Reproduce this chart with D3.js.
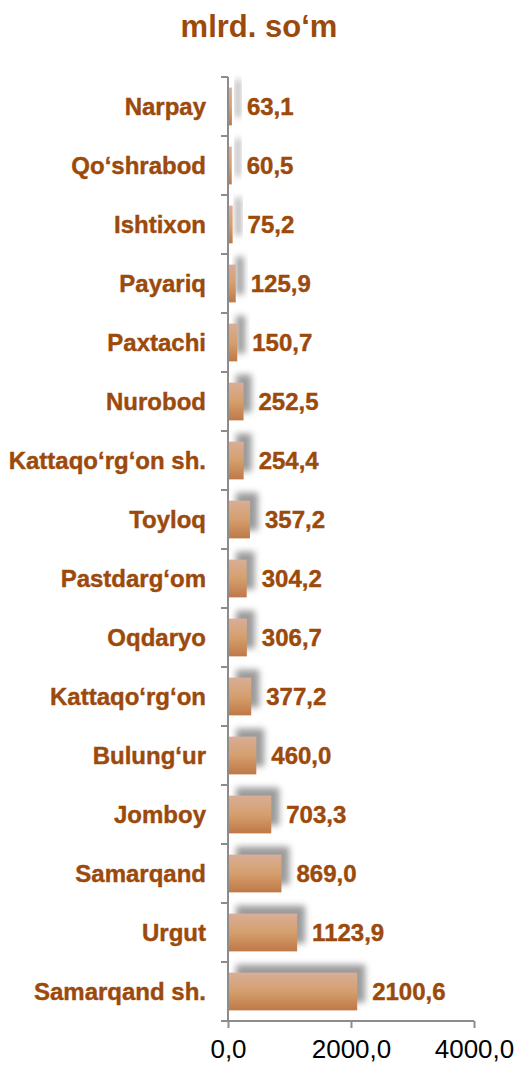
<!DOCTYPE html>
<html>
<head>
<meta charset="utf-8">
<script src="https://cdn.jsdelivr.net/npm/d3@7"></script>
<style>
  body { margin: 0; background: #fff; }
  svg { display: block; }
  text { font-family: "Liberation Sans", Arial, sans-serif; }
</style>
</head>
<body>
<div id="chart"></div>
<script>
// districts, top to bottom
var districts = ["Narpay", "Qo‘shrabod", "Ishtixon", "Payariq", "Paxtachi", "Nurobod",
  "Kattaqo‘rg‘on sh.", "Toyloq", "Pastdarg‘om", "Oqdaryo", "Kattaqo‘rg‘on",
  "Bulung‘ur", "Jomboy", "Samarqand", "Urgut", "Samarqand sh."];
var values = [63.1, 60.5, 75.2, 125.9, 150.7, 252.5, 254.4, 357.2, 304.2, 306.7, 377.2,
  460.0, 703.3, 869.0, 1123.9, 2100.6];
var xTicks = [0, 2000, 4000];
var title = "mlrd. so‘m";

var width = 516, height = 1065;
var brown = "#9c4a0c";
var fmt = function(v) { return d3.format(".1f")(v).replace(".", ","); };

var svg = d3.select("#chart").append("svg")
    .attr("width", width)
    .attr("height", height);

var defs = svg.append("defs");
var grad = defs.append("linearGradient")
    .attr("id", "barFill")
    .attr("x1", 0).attr("y1", 0).attr("x2", 0).attr("y2", 1);
grad.append("stop").attr("offset", "0%").attr("stop-color", "#d9ae98");
grad.append("stop").attr("offset", "50%").attr("stop-color", "#d59f6d");
grad.append("stop").attr("offset", "100%").attr("stop-color", "#bf7848");

var blur = defs.append("filter").attr("id", "shadowBlur")
    .attr("x", "-50%").attr("y", "-50%").attr("width", "200%").attr("height", "200%");
blur.append("feGaussianBlur").attr("stdDeviation", 3);

var x = d3.scaleLinear().domain([0, 4000]).range([228, 474]);
var y = d3.scaleBand().domain(districts).range([77, 1021])
    .paddingInner(0.36).paddingOuter(0.18);

var rows = districts.map(function(d, i) { return { name: d, value: values[i] }; });

// title
svg.append("text")
    .attr("x", 259).attr("y", 37)
    .attr("text-anchor", "middle")
    .attr("fill", brown)
    .style("font-size", "31px")
    .style("font-weight", "bold")
    .text(title);

// shadows
svg.append("g").selectAll("rect")
    .data(rows)
    .enter().append("rect")
    .attr("x", x(0) + 8)
    .attr("y", function(d) { return y(d.name) - 8; })
    .attr("width", function(d) { return x(d.value) - x(0); })
    .attr("height", y.bandwidth())
    .attr("fill", "#8a8a8a")
    .attr("opacity", 0.85)
    .attr("filter", "url(#shadowBlur)");

// bars
svg.append("g").selectAll("rect")
    .data(rows)
    .enter().append("rect")
    .attr("x", x(0))
    .attr("y", function(d) { return y(d.name); })
    .attr("width", function(d) { return x(d.value) - x(0); })
    .attr("height", y.bandwidth())
    .attr("fill", "url(#barFill)");

// value labels
svg.append("g").selectAll("text")
    .data(rows)
    .enter().append("text")
    .attr("x", function(d) { return x(d.value) + 15; })
    .attr("y", function(d) { return y(d.name) + y.bandwidth() / 2 + 8.5; })
    .attr("fill", brown)
    .attr("stroke", brown).attr("stroke-width", 0.4)
    .style("font-size", "24px")
    .style("font-weight", "bold")
    .text(function(d) { return fmt(d.value); });

// y axis
var yAxis = svg.append("g")
    .attr("transform", "translate(" + x(0) + ",0)");
yAxis.append("line")
    .attr("x1", 0).attr("x2", 0)
    .attr("y1", 77).attr("y2", 1021)
    .attr("stroke", "#8c8c8c").attr("stroke-width", 2);
var step = y.step();
yAxis.selectAll("line.tick")
    .data(d3.range(districts.length + 1))
    .enter().append("line")
    .attr("class", "tick")
    .attr("x1", -7).attr("x2", 0)
    .attr("y1", function(i) { return 77 + i * step; })
    .attr("y2", function(i) { return 77 + i * step; })
    .attr("stroke", "#8c8c8c").attr("stroke-width", 2);
yAxis.selectAll("text")
    .data(rows)
    .enter().append("text")
    .attr("x", -22)
    .attr("y", function(d) { return y(d.name) + y.bandwidth() / 2 + 8.5; })
    .attr("text-anchor", "end")
    .attr("fill", brown)
    .attr("stroke", brown).attr("stroke-width", 0.4)
    .style("font-size", "24px")
    .style("font-weight", "bold")
    .text(function(d) { return d.name; });

// x axis
var xAxis = svg.append("g")
    .attr("transform", "translate(0,1021)")
    .call(d3.axisBottom(x).tickValues(xTicks).tickSize(7).tickPadding(12)
        .tickFormat(fmt));
xAxis.select(".domain").remove();
xAxis.append("line")
    .attr("x1", 221).attr("x2", 474)
    .attr("stroke", "#8c8c8c").attr("stroke-width", 2);
xAxis.selectAll(".tick line").attr("stroke", "#8c8c8c").attr("stroke-width", 2);
xAxis.selectAll(".tick text")
    .attr("fill", "#000")
    .style("font-size", "26px")
    .style("font-family", "'Liberation Sans', Arial, sans-serif");
</script>
</body>
</html>
